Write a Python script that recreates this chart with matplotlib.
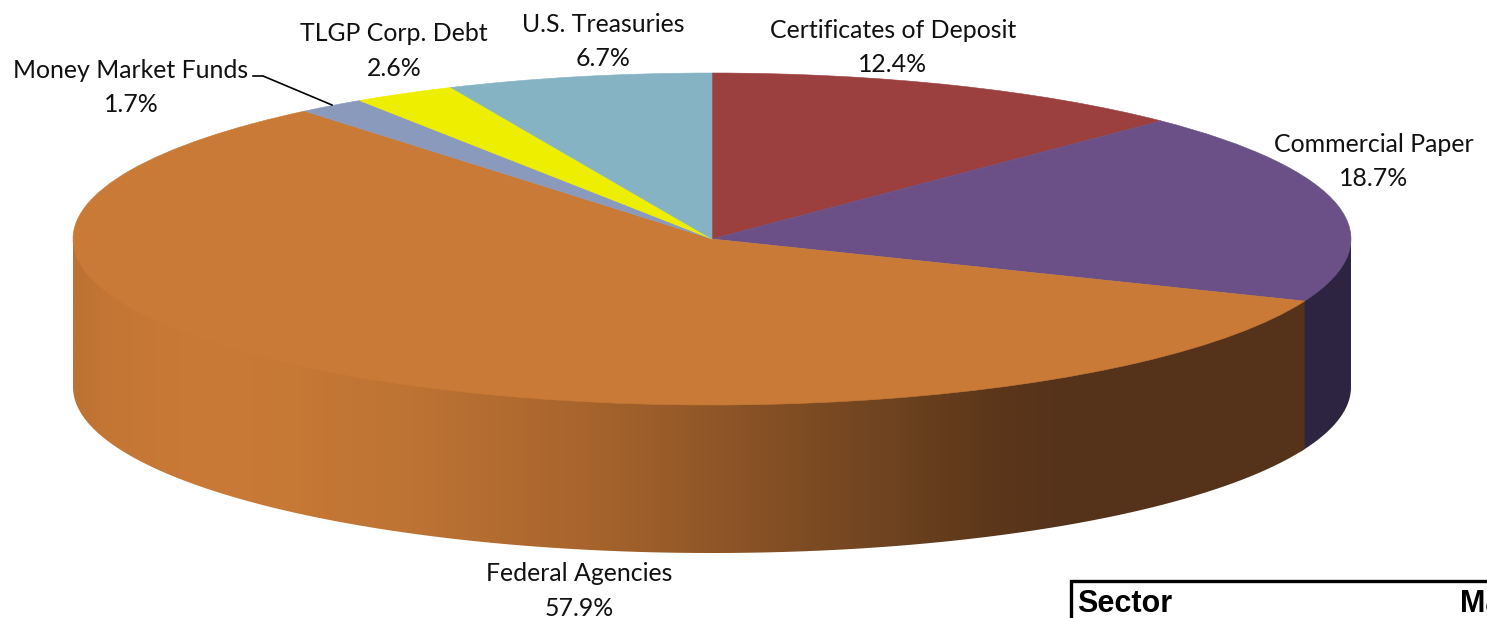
import numpy as np
import matplotlib
matplotlib.use("Agg")
import matplotlib.pyplot as plt
from matplotlib.patches import Polygon
from matplotlib.colors import LinearSegmentedColormap

sectors = ["Certificates of Deposit", "Commercial Paper", "Federal Agencies",
           "Money Market Funds", "TLGP Corp. Debt", "U.S. Treasuries"]
shares = [12.4, 18.7, 57.9, 1.7, 2.6, 6.7]
top_colors = ["#9C3F3F", "#6A5087", "#C97A36", "#8A9ABC", "#EEEE00", "#86B3C4"]

W, H = 1487, 618
CX, CY, RX, RY, DEPTH = 712, 239, 639, 166, 148

fig = plt.figure(figsize=(W / 100, H / 100), dpi=100, facecolor="white")
ax = fig.add_axes([0, 0, 1, 1])

wedges, _ = ax.pie(shares, colors=top_colors, startangle=90, counterclock=False,
                   radius=1, center=(0, 0), wedgeprops=dict(linewidth=0))
for w in wedges:
    w.set_zorder(5)
    w.set_edgecolor(w.get_facecolor())
    w.set_linewidth(0.4)

# side wall of the disc, shaded along x as in the reference
stops_x = [73, 110, 200, 300, 400, 500, 600, 700, 800, 900, 1000, 1070, 1351]
stops_c = ["#BC7232", "#C47635", "#C97A36", "#C67835", "#BE7434", "#B36B30", "#A5632C",
           "#935828", "#7F4C23", "#6C421F", "#5B361A", "#55321A", "#55321A"]
span = stops_x[-1] - stops_x[0]
orange_side = LinearSegmentedColormap.from_list(
    "side", [((x - stops_x[0]) / span, c) for x, c in zip(stops_x, stops_c)], N=1024)

edges = np.cumsum([0] + shares) * 3.6
depth = DEPTH / RY
tuck = 0.02  # the wall runs slightly under the top face so no seam shows


def wall_outline(a0, a1):
    ang = np.radians(np.linspace(a0, a1, 400))
    x, y = np.sin(ang), np.cos(ang)
    return np.column_stack([np.r_[x, x[::-1]], np.r_[y + tuck, y[::-1] - depth]])


ax.add_patch(Polygon(wall_outline(90, edges[2] + 1), closed=True, facecolor="#2C2440",
                     edgecolor="none", zorder=2))

gradient = np.linspace(0, 1, 1400)[None, :]
img = ax.imshow(gradient, cmap=orange_side, vmin=0, vmax=1, aspect="auto", origin="lower",
                extent=(-1, 1, -1 - depth, 1), interpolation="bilinear", zorder=3)
clip = Polygon(wall_outline(edges[2], 270), closed=True, transform=ax.transData,
               facecolor="none", edgecolor="none")
ax.add_patch(clip)
img.set_clip_path(clip)

ax.set_aspect("auto")
ax.set_xlim(-CX / RX, (W - CX) / RX)
ax.set_ylim((CY - H) / RY, CY / RY)
ax.axis("off")

# overlay in pixel coordinates for the labels and the table corner
ov = fig.add_axes([0, 0, 1, 1], facecolor="none")
ov.set_xlim(0, W)
ov.set_ylim(H, 0)
ov.axis("off")

label_pos = [(893, 30.5, 65), (1374, 144.5, 179), (579, 573.5, 609),
             (131, 70, 105), (394, 33.5, 68), (603, 24.5, 59)]
font = dict(family="Lato", fontsize=17.9, color="#111111", ha="center", va="center")
for name, val, (x, y1, y2) in zip(sectors, shares, label_pos):
    ov.text(x, y1, name, **font)
    ov.text(x, y2, f"{val:.1f}%", **font)

ov.plot([253, 263, 332], [76, 76, 105], color="black", lw=1.2, zorder=6)

ov.plot([1070.5, 1070.5, W + 5], [H + 5, 580.5, 580.5], color="black", lw=2.4,
        solid_joinstyle="miter", clip_on=False)
ov.text(1077, 611.5, "Sector", family="Liberation Sans", weight="bold", fontsize=22,
        va="baseline", ha="left", color="black")
ov.text(1460, 611.5, "Ma", family="Liberation Sans", weight="bold", fontsize=22,
        va="baseline", ha="left", color="black")

fig.savefig("out.png", dpi=100)
